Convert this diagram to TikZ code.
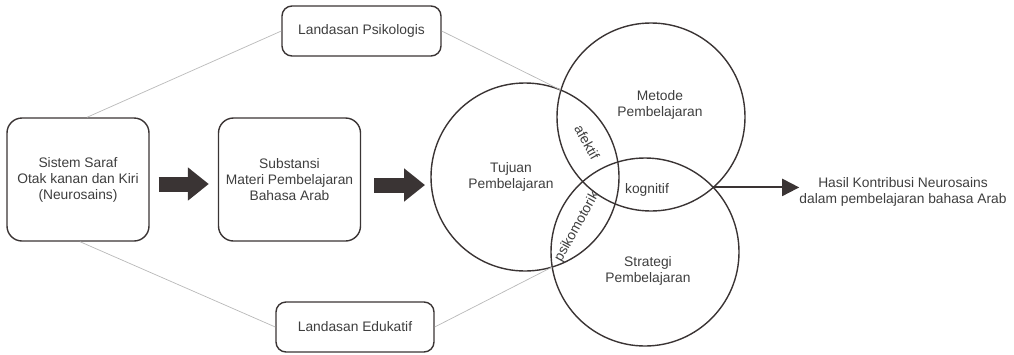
\documentclass[tikz,border=0pt]{standalone}
\usepackage{fontspec}
\setmainfont{Liberation Sans}
\usetikzlibrary{calc,intersections,arrows.meta}

\definecolor{ink}{HTML}{3A3434}
\definecolor{txt}{HTML}{3E3E3E}
\definecolor{thin}{HTML}{B8B8B8}

\begin{document}
\begin{tikzpicture}[x=1pt,y=-1pt,
    every node/.style={font=\fontsize{13.8}{16}\selectfont, text=txt, align=center},
    bigbox/.style={draw=ink, line width=1.4pt, rounded corners=15pt, minimum width=142pt, minimum height=123pt},
    basebox/.style={draw=ink, line width=1.4pt, rounded corners=10pt, minimum width=159pt, minimum height=50pt},
    ring/.style={draw=ink, line width=1.4pt},
    link/.style={draw=thin, line width=0.7pt},
    fatarrow/.style={draw=ink, line width=15pt, -{Triangle[length=21pt,width=32pt]}}]
    \useasboundingbox (0,0) rectangle (1014,354);
    % Boxes
    \node[bigbox] (sistem) at (78,179.5) {Sistem Saraf\\Otak kanan dan Kiri\\(Neurosains)};
    \node[bigbox] (substansi) at (289.5,179.5) {Substansi\\Materi Pembelajaran\\Bahasa Arab};
    \node[basebox] (psikologis) at (361.5,31) {Landasan Psikologis};
    \node[basebox, minimum width=158pt] (edukatif) at (355,327) {Landasan Edukatif};
    % Circles
    \coordinate (tujuan) at (525,177);
    \coordinate (metode) at (651,117);
    \coordinate (strategi) at (645,252);
    \draw[ring, name path=tujuanC] (tujuan) circle[radius=94pt];
    \draw[ring, name path=metodeC] (metode) circle[radius=94pt];
    \draw[ring, name path=strategiC] (strategi) circle[radius=94pt];
    \path[name intersections={of=tujuanC and metodeC, name=tm}];
    \path[name intersections={of=tujuanC and strategiC, name=ts}];
    \path[name intersections={of=metodeC and strategiC, name=ms}];
    % Links
    \draw[link] ([xshift=9pt]sistem.north) -- (psikologis.west);
    \draw[link] ([xshift=2pt]sistem.south) -- (edukatif.west);
    \draw[link] (psikologis.east) -- (tm-1);
    \draw[link] (edukatif.east) -- (ts-2);
    % Arrows
    \draw[fatarrow] ($(sistem.east)+(9,4.5)$) -- ($(substansi.west)+(-9,4.5)$);
    \draw[fatarrow] ($(substansi.east)+(13,5.5)$) -- ($(tujuan)+(-100,8)$);
    % Labels
    \node (tujuanL) at (511,177) {Tujuan\\Pembelajaran};
    \node (metodeL) at (660,104.5) {Metode\\Pembelajaran};
    \node (strategiL) at (648,270.5) {Strategi\\Pembelajaran};
    \node[rotate=-61] (afektif) at (587,142) {afektif};
    \node[rotate=61] (psiko) at (577,227) {psikomotorik};
    \node (kognitif) at (647,190) {kognitif};
    \node[inner sep=0pt] (hasil) at (903,191.5) {Hasil Kontribusi Neurosains\\dalam pembelajaran bahasa Arab};
    \draw[ink, line width=2pt, -{Triangle[length=17pt,width=17pt]}] (ms-2) -- (ms-2 -| hasil.west);
  \end{tikzpicture}
\end{document}
